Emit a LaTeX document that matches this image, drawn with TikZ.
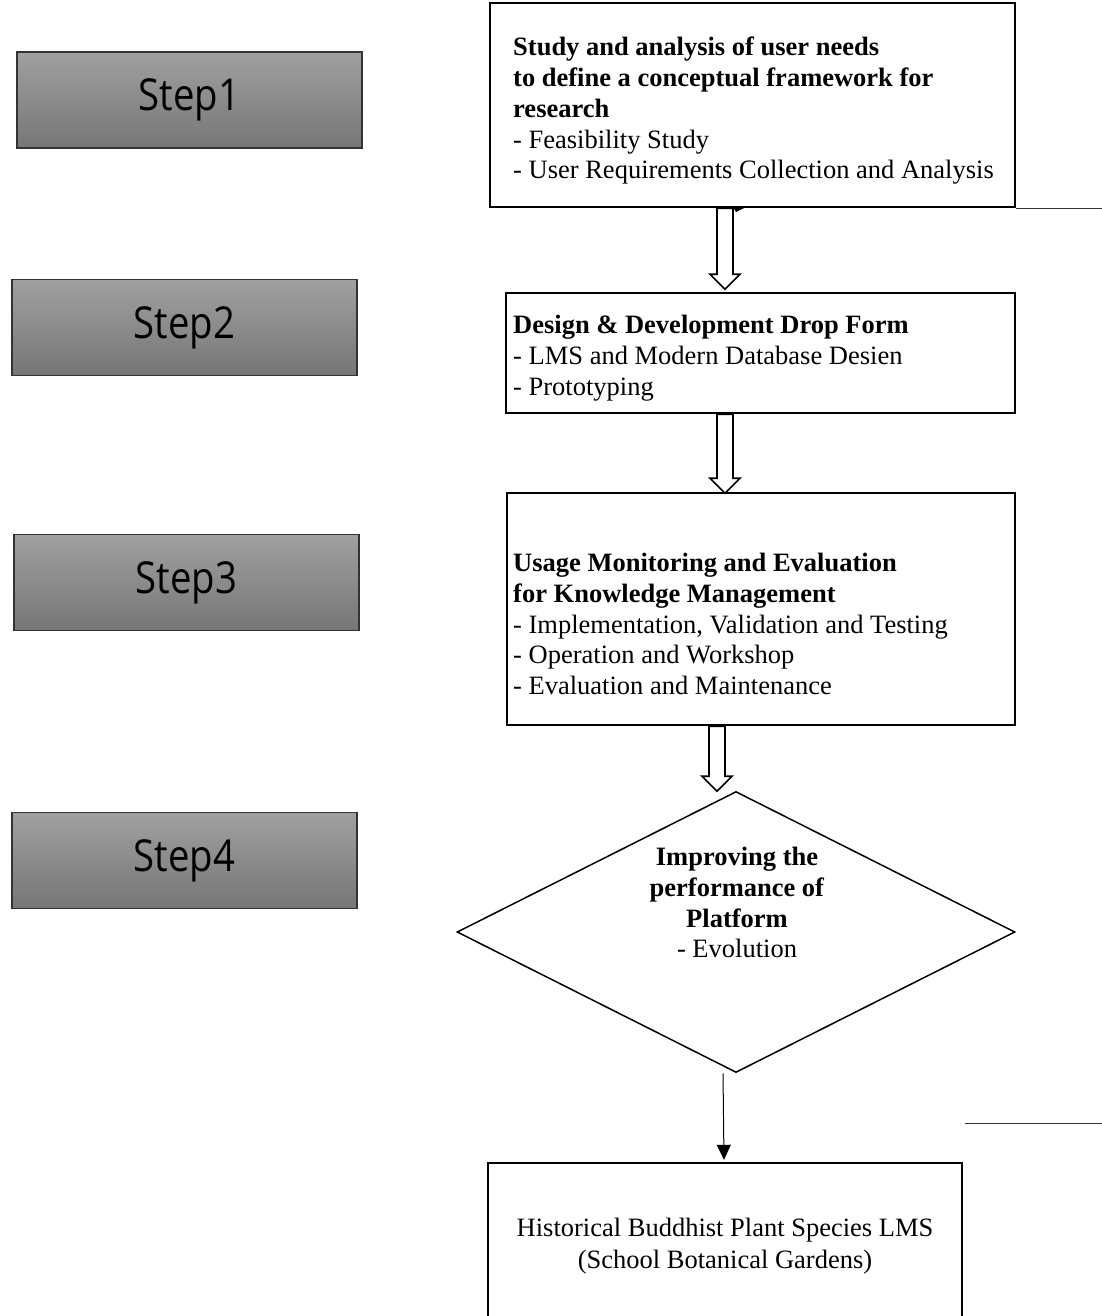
\documentclass[tikz,border=0pt]{standalone}
\usepackage{fontspec}
\setmainfont{Liberation Serif}
\newfontfamily\stepfont[FakeStretch=0.87]{Open Sans}
\usetikzlibrary{shapes.geometric,arrows.meta}
\definecolor{steptop}{RGB}{160,160,160}
\definecolor{stepbottom}{RGB}{118,118,118}
\newcommand{\hollowdown}[2]{%
\draw[line width=1.6pt, fill=white] #1 ++(-8,0) -- ++(0,{#2-15}) -- ++(-7,0) -- ++(15,15) -- ++(15,-15) -- ++(-7,0) -- ++(0,{15-#2}) -- cycle;}
\begin{document}
\begin{tikzpicture}[x=1pt, y=-1pt,
stepbox/.style={draw=black!80, line width=1.2pt, top color=steptop, bottom color=stepbottom, minimum width=345pt, minimum height=96pt, font=\stepfont\fontsize{44}{50}\selectfont},
stage/.style={draw, line width=2.4pt, fill=white},
body/.style={anchor=north west, align=left, inner sep=0pt, font=\fontsize{26.5}{30.8}\selectfont}]
\useasboundingbox (0,0) rectangle (1102,1316);
\clip (0,0) rectangle (1102,1316);
\node[stepbox] (s1) at (189.5,100) {Step1};
\node[stepbox] (s2) at (184.5,327.5) {Step2};
\node[stepbox] (s3) at (186.5,582.5) {Step3};
\node[stepbox] (s4) at (184.5,860.5) {Step4};
\coordinate (a1) at (725,0);
\coordinate (a3) at (717,0);
\coordinate (e1) at (1102,206);
\coordinate (l2a) at (965,1123);
\coordinate (l2b) at (1102,1123);
\node[stage, minimum width=525pt, minimum height=204pt] (box1) at (752.5,105) {};
\node[body] (t1) at (513,36.9) {\textbf{Study and analysis of user needs}\\\textbf{to define a conceptual framework for}\\\textbf{research}\\- Feasibility Study\\- User Requirements Collection and Analysis};
\node[stage, minimum width=509pt, minimum height=120pt] (box2) at (760.5,353) {};
\node[body] (t2) at (513,314.9) {\textbf{Design \& Development Drop Form}\\- LMS and Modern Database Desien\\- Prototyping};
\node[stage, minimum width=508pt, minimum height=232pt] (box3) at (761,609) {};
\node[body] (t3) at (513,552.9) {\textbf{Usage Monitoring and Evaluation}\\\textbf{for Knowledge Management}\\- Implementation, Validation and Testing\\- Operation and Workshop\\- Evaluation and Maintenance};
\node[draw, diamond, line width=1.5pt, inner sep=0pt, minimum width=558pt, minimum height=281pt] (dia) at (736,932) {};
\node[anchor=north, align=center, inner sep=0pt, font=\fontsize{26.5}{30.8}\selectfont] (t4) at (737,846.9) {\textbf{Improving the}\\\textbf{performance of}\\\textbf{Platform}\\- Evolution};
\node[stage, minimum width=474pt, minimum height=177pt] (box5) at (725,1251.5) {};
\node[align=center, font=\fontsize{26.5}{32}\selectfont] (t5) at (725,1246) {Historical Buddhist Plant Species LMS\\(School Botanical Gardens)};
\hollowdown{(box1.south -| a1)}{81}
\hollowdown{(box2.south -| a1)}{79}
\hollowdown{(box3.south -| a3)}{65}
\fill (733,207) -- (746,207) -- (736,212) -- cycle;
\draw[line width=1pt, -{Triangle[length=15pt,width=14pt]}, shorten >=2pt] ([xshift=-13pt]dia.south) -- ([xshift=-1pt]box5.north);
\draw[line width=1pt, black!80] (box1.south east) -- (box1.south east -| e1);
\draw[line width=1pt, black!80] (l2a) -- (l2b);
\end{tikzpicture}
\end{document}
